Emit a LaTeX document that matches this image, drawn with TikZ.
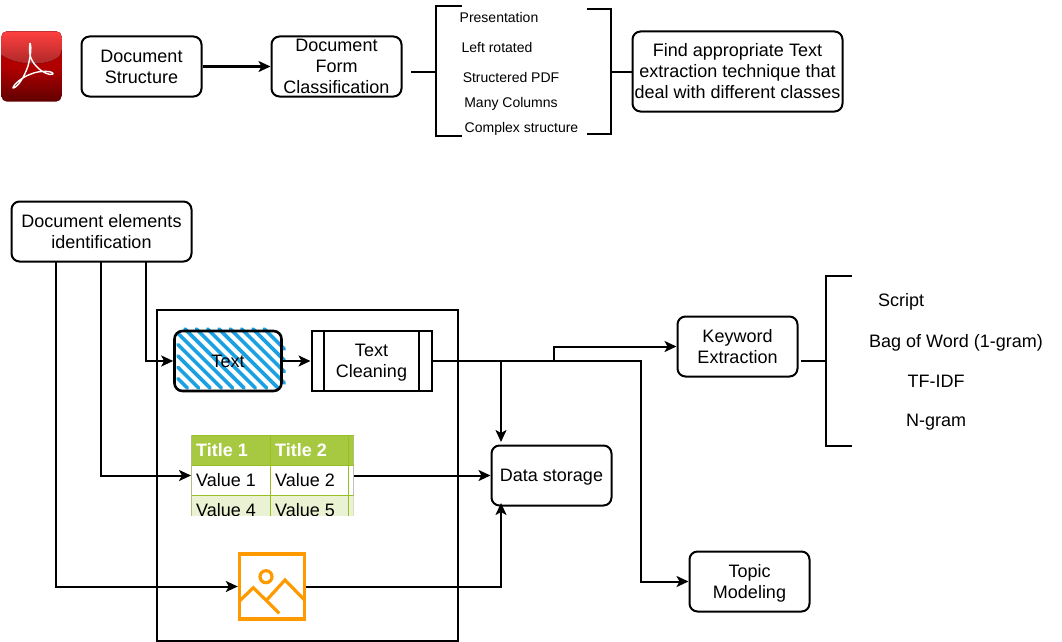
\documentclass[tikz,border=0pt]{standalone}
\usepackage{fontspec}
\setmainfont{Liberation Sans}
\usetikzlibrary{arrows.meta}
\definecolor{hatchblue}{HTML}{1BA1E2}
\definecolor{tablehead}{HTML}{A7C942}
\definecolor{tableline}{HTML}{98BF21}
\definecolor{tablerow}{HTML}{EAF2D3}
\definecolor{imgorange}{HTML}{FF9900}

\begin{document}
\begin{tikzpicture}[x=1pt,y=-1pt]
\tikzset{box/.style = {shape=rectangle,draw,line width=2pt,rounded corners=8pt,align=center,minimum width=120pt,minimum height=60pt,inner sep=0pt,text depth=0pt,font=\fontsize{18}{21}\selectfont}}
\tikzset{label/.style = {align=center,inner sep=0pt,text depth=0pt,font=\fontsize{18}{21}\selectfont}}
\tikzset{small/.style = {inner sep=0pt,text depth=0pt,font=\fontsize{14}{16}\selectfont}}
\tikzset{cell/.style = {anchor=west,inner sep=0pt,font=\fontsize{18}{21}\selectfont}}
\tikzset{edge/.style = {-{Stealth[length=12pt,width=11pt,inset=3pt]},line width=2pt}}
\tikzset{line/.style = {line width=2pt}}
\useasboundingbox (0,0) rectangle (1062,642);

% pdf icon
\node[shape=rectangle,rounded corners=5pt,minimum width=60pt,minimum height=70pt,inner sep=0pt,top color=red!70!black,bottom color=red!38!black,middle color=red!70!black](pdf) at (31.5,66.5) {};
\fill[rounded corners=5pt,top color=red!75!white,bottom color=red!60!black!85!white] (1.5,31.5) -- (61.5,31.5) -- (61.5,55) [sharp corners] .. controls (45,66) and (18,66) .. (1.5,55) [rounded corners=5pt] -- cycle;
\draw[white,line width=1.4pt,line join=round] (30,43) .. controls (28,56) and (32,62) .. (38,68) .. controls (42,72) and (50,76) .. (53,74) .. controls (54,71) and (40,70) .. (31,74) .. controls (22,77) and (13,85) .. (13,88) .. controls (17,88) and (24,78) .. (28,66) .. controls (30,58) and (32,48) .. (30,43);

% first row
\node[box](structure) at (141.5,66.5) {Document\\Structure};
\node[box,minimum width=130pt](form) at (336.5,66.5) {Document\\Form\\Classification};
\node[box,minimum width=210pt,minimum height=80pt,text depth=2pt](find) at (737.5,71.5) {Find appropriate Text\\extraction technique that\\deal with different classes};
\draw[edge] (structure) -- (form);
\coordinate (formend) at (411,71.5);
\coordinate (lbracket) at (436,71.5);
\coordinate (rbracket) at (610.5,71.5);
\draw[line] (462,6.5) -- (436,6.5) -- (436,136) -- (462,136);
\draw[line] (587,9.5) -- (610.5,9.5) -- (610.5,134) -- (587,134);
\draw[line] (formend) -- (lbracket);
\draw[line] (rbracket) -- (find.west |- rbracket);
\node[small](presentation) at (499,17) {Presentation};
\node[small](rotated) at (497,47) {Left rotated};
\node[small](pdftext) at (511,77) {Structered PDF};
\node[small](columns) at (511,102) {Many Columns};
\node[small](complex) at (521.5,127) {Complex structure};

% outer frame and elements
\node[draw,line width=2pt,minimum width=301pt,minimum height=331pt,inner sep=0pt](frame) at (307.5,475.5) {};
\node[box,minimum width=180pt](elements) at (101.5,231.5) {Document elements\\identification};

% hatched text box
\foreach \k in {-5,...,7} {
  \pgfmathsetmacro\c{-144+11.33*\k}
  \pgfmathsetmacro\ya{max(329,178-\c)}
  \pgfmathsetmacro\yb{min(388,284.3-\c)}
  \draw[hatchblue,line width=3.6pt,line cap=round] (\ya+\c,\ya) -- (\yb+\c,\yb);
}
\node[box,minimum width=107pt,line width=2.6pt](text) at (228,361) {Text};
\node[draw,line width=2pt,minimum width=120pt,minimum height=60pt,align=center,inner sep=0pt,text depth=0pt,font=\fontsize{18}{21}\selectfont](cleaning) at (371.5,361) {Text\\Cleaning};
\draw[line width=2pt] (324,331) -- (324,391);
\draw[line width=2pt] (419,331) -- (419,391);

% table
\node[draw=black!25,line width=1pt,minimum width=162pt,minimum height=80pt,inner sep=0pt](table) at (272.5,475.5) {};
\begin{scope}
\clip (191.5,435.5) rectangle (353.5,515.5);
\fill[tablehead] (191.5,435.5) rectangle (353.5,465.5);
\fill[tablerow] (191.5,495.5) rectangle (353.5,515.5);
\draw[tableline,line width=1pt] (191.5,435.5) -- (353.5,435.5);
\draw[tableline,line width=1pt] (191.5,465.5) -- (353.5,465.5);
\draw[tableline,line width=1pt] (191.5,495.5) -- (353.5,495.5);
\draw[tableline,line width=1pt] (191.5,435.5) -- (191.5,515.5);
\draw[tableline,line width=1pt] (270.5,435.5) -- (270.5,515.5);
\draw[tableline,line width=1pt] (348.5,435.5) -- (348.5,515.5);
\node[cell,text=white,font=\fontsize{18}{21}\selectfont\bfseries](titlea) at (196,450) {Title 1};
\node[cell,text=white,font=\fontsize{18}{21}\selectfont\bfseries](titleb) at (275,450) {Title 2};
\node[cell](valuea) at (196,480) {Value 1};
\node[cell](valueb) at (275,480) {Value 2};
\node[cell](valuec) at (196,510) {Value 4};
\node[cell](valued) at (275,510) {Value 5};
\end{scope}

% image icon
\node[draw=imgorange,line width=3.4pt,minimum width=65pt,minimum height=65pt,inner sep=0pt](image) at (272,586.5) {};
\draw[imgorange,line width=3.2pt] (266,576.7) circle (6pt);
\draw[imgorange,line width=3.2pt] (239,601.5) -- (253.3,587.7) -- (279.3,613.3);
\draw[imgorange,line width=3.2pt] (266.7,600) -- (285,580) -- (305,600.5);

% right hand boxes
\node[box](storage) at (551.5,475.5) {Data storage};
\node[box](keyword) at (737.5,346.5) {Keyword\\Extraction};
\node[box](topic) at (749.5,581.5) {Topic\\Modeling};

% connectors
\coordinate (elema) at (56,262);
\coordinate (elemb) at (101,262);
\coordinate (elemc) at (146,262);
\draw[edge] (elema) |- (image);
\draw[edge] (elemb) |- (table);
\draw[edge] (elemc) |- (text);
\draw[edge] (text) -- (cleaning);
\coordinate (split) at (554,361);
\coordinate (turn) at (641,361);
\coordinate (drop) at (501,361);
\coordinate (stoptop) at (501,442);
\coordinate (stopbot) at (501,503);
\draw[edge] (cleaning) -- (split) |- (keyword);
\draw[edge] (cleaning) -- (turn) |- (topic);
\draw[edge] (drop) -- (stoptop);
\draw[edge] (table) -- (storage);
\draw[edge] (image) -| (stopbot);

% keyword bracket
\coordinate (kwend) at (801,360.5);
\coordinate (kbracket) at (826,360.5);
\draw[line] (852,275.5) -- (826,275.5) -- (826,445.5) -- (852,445.5);
\draw[line] (kwend) -- (kbracket);
\node[label](script) at (901,300) {Script};
\node[label](bow) at (956,341) {Bag of Word (1-gram)};
\node[label](tfidf) at (936,381) {TF-IDF};
\node[label](ngram) at (936,420) {N-gram};
\end{tikzpicture}
\end{document}
